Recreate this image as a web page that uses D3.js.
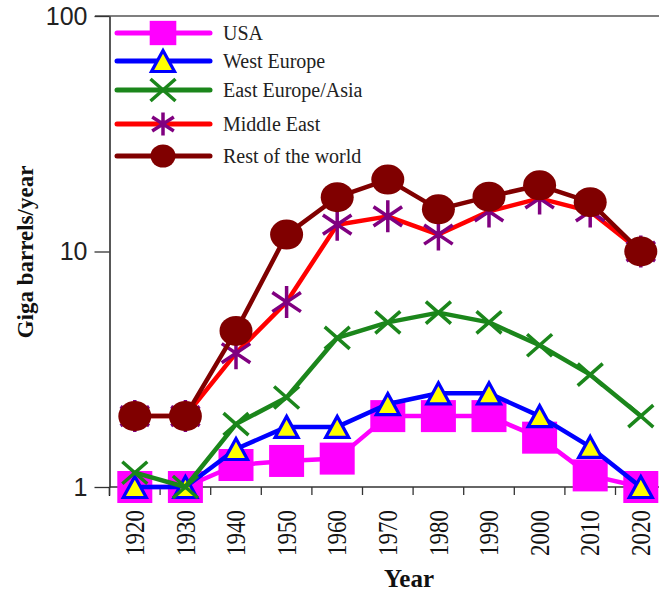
<!DOCTYPE html>
<html>
<head>
<meta charset="utf-8">
<script src="https://cdn.jsdelivr.net/npm/d3@7/dist/d3.min.js"></script>
<style>
  html, body { margin: 0; padding: 0; background: #fff; }
  svg { display: block; }
</style>
</head>
<body>
<svg id="chart" width="659" height="591"></svg>
<script>
// ---- data ----
const years = ["1920","1930","1940","1950","1960","1970","1980","1990","2000","2010","2020"];
const yTicks = [1, 10, 100];
const seriesNames = ["USA", "West Europe", "East Europe/Asia", "Middle East", "Rest of the world"];
const usa        = [1.0, 1.0, 1.24, 1.29, 1.32, 2.0, 2.0, 2.0, 1.62, 1.12, 1.0];
const westEurope = [1.0, 1.0, 1.45, 1.8, 1.8, 2.25, 2.5, 2.5, 2.0, 1.48, 1.0];
const eastEurope = [1.15, 1.0, 1.85, 2.4, 4.3, 5.0, 5.5, 5.0, 4.0, 3.0, 2.0];
const middleEast = [2.0, 2.0, 3.7, 6.1, 13.0, 14.1, 11.8, 14.8, 16.8, 14.8, 10.0];
const restWorld  = [2.0, 2.0, 4.6, 11.8, 17.0, 20.2, 15.1, 17.1, 19.1, 16.2, 10.0];
const xTitle = "Year";
const yTitle = "Giga barrels/year";

// ---- styles ----
const styles = [
  { line: "#ff00ff", marker: "square" },
  { line: "#0000ff", marker: "triangle" },
  { line: "#1b861b", marker: "x" },
  { line: "#ff0000", marker: "asterisk" },
  { line: "#800000", marker: "circle" }
];
const values = [usa, westEurope, eastEurope, middleEast, restWorld];

const svg = d3.select("#chart");
const x0 = 109.5, step = 50.6;
const x = d3.scaleBand().domain(years).range([x0, x0 + step * years.length]).padding(0);
const y = d3.scaleLog().domain([1, 100]).range([487, 16]);
const bw = x.bandwidth();
const cx = d => x(d) + bw / 2;

// marker drawing
function drawMarker(g, type, px, py, big) {
  const s = big ? 1 : 0.76;
  if (type === "square") {
    const w = 35 * s, h = 32 * s;
    g.append("rect").attr("x", px - w / 2).attr("y", py - h / 2).attr("width", w).attr("height", h)
      .attr("fill", "#ff00ff");
  } else if (type === "triangle") {
    const w = 23, h = 21;
    const p = [[px, py - h / 2], [px + w / 2, py + h / 2], [px - w / 2, py + h / 2]];
    g.append("path").attr("d", d3.line()(p) + "Z")
      .attr("fill", "#ffff00").attr("stroke", "#0000ff").attr("stroke-width", 3.2)
      .attr("stroke-linejoin", "miter");
  } else if (type === "x") {
    const hw = 12.5, hh = 11;
    g.append("path").attr("d", `M${px-hw},${py-hh}L${px+hw},${py+hh}M${px-hw},${py+hh}L${px+hw},${py-hh}`)
      .attr("stroke", "#1b861b").attr("stroke-width", 3.5).attr("fill", "none");
  } else if (type === "asterisk") {
    const r = big ? 16.5 : 12.5, rv = big ? 16 : 11.5;
    const a = Math.PI / 6;
    const dx = r * Math.cos(a), dy = rv * Math.sin(a) * 1.2;
    g.append("path").attr("d",
      `M${px},${py-rv}L${px},${py+rv}M${px-dx},${py-dy}L${px+dx},${py+dy}M${px-dx},${py+dy}L${px+dx},${py-dy}`)
      .attr("stroke", "#800080").attr("stroke-width", 3.5).attr("fill", "none");
  } else if (type === "circle") {
    g.append("ellipse").attr("cx", px).attr("cy", py)
      .attr("rx", big ? 16.5 : 12.5).attr("ry", big ? 15 : 11.5)
      .attr("fill", "#800000");
  }
}

// ---- axes ----
svg.append("line").attr("x1", 95).attr("x2", 659).attr("y1", y(100)).attr("y2", y(100))
  .attr("stroke", "#555").attr("stroke-width", 1.6);

const yAxis = d3.axisLeft(y).tickValues(yTicks).tickFormat(d3.format("d")).tickSize(15).tickSizeOuter(0).tickPadding(7);
const gy = svg.append("g").attr("transform", `translate(${x0},0)`).call(yAxis);
gy.select(".domain").attr("stroke", "#111").attr("stroke-width", 1.4);
gy.selectAll(".tick line").attr("stroke", "#333").attr("stroke-width", 1.3);
gy.selectAll(".tick text").attr("font-family", "Liberation Sans, Arial, sans-serif")
  .attr("font-size", 25).attr("fill", "#222");
svg.append("line").attr("x1", x0).attr("x2", x0).attr("y1", y(1)).attr("y2", y(1) + 9)
  .attr("stroke", "#111").attr("stroke-width", 1.4);

const xAxis = d3.axisBottom(x).tickFormat("").tickSize(8).tickSizeOuter(0);
const gx = svg.append("g").attr("transform", `translate(${-bw / 2},${y(1)})`).call(xAxis);
gx.select(".domain").remove();
gx.selectAll(".tick line").attr("stroke", "#333").attr("stroke-width", 1.3);
svg.append("line").attr("x1", x0).attr("x2", 659).attr("y1", y(1)).attr("y2", y(1))
  .attr("stroke", "#333").attr("stroke-width", 1.3);

// x tick labels (rotated, slightly taller glyphs like the reference)
svg.append("g").selectAll("text").data(years).join("text")
  .attr("transform", d => `translate(${cx(d)},510) rotate(-90) scale(1,1.22)`)
  .attr("text-anchor", "end").attr("dominant-baseline", "central")
  .attr("font-family", "Liberation Serif, Times New Roman, serif").attr("font-size", 23)
  .attr("fill", "#111").text(d => d);

svg.append("text").attr("x", 409).attr("y", 587).attr("text-anchor", "middle")
  .attr("font-family", "Liberation Serif, Times New Roman, serif").attr("font-weight", "bold")
  .attr("font-size", 25).attr("fill", "#111").text(xTitle);
svg.append("text").attr("transform", "translate(33,252) rotate(-90)").attr("text-anchor", "middle")
  .attr("font-family", "Liberation Serif, Times New Roman, serif").attr("font-weight", "bold")
  .attr("font-size", 23).attr("fill", "#111").text(yTitle);

// ---- series ----
const plot = svg.append("g");
values.forEach((vals, i) => {
  const g = plot.append("g");
  const pts = years.map((yr, j) => [cx(yr), y(vals[j])]);
  g.append("path").attr("d", d3.line()(pts)).attr("fill", "none")
    .attr("stroke", styles[i].line).attr("stroke-width", 4.5)
    .attr("stroke-linejoin", "round").attr("stroke-linecap", "round");
  pts.forEach(p => drawMarker(g, styles[i].marker, p[0], p[1], true));
});

// ---- legend ----
const legendRows = [33, 61, 90, 124, 156];
const leg = svg.append("g");
seriesNames.forEach((name, i) => {
  const ly = legendRows[i];
  const g = leg.append("g");
  g.append("line").attr("x1", 117).attr("x2", 210).attr("y1", ly).attr("y2", ly)
    .attr("stroke", styles[i].line).attr("stroke-width", 5).attr("stroke-linecap", "round");
  drawMarker(g, styles[i].marker, 163, ly, false);
  g.append("text").attr("x", 223).attr("y", ly + 7)
    .attr("font-family", "Liberation Serif, Times New Roman, serif").attr("font-size", 20)
    .attr("fill", "#222").text(name);
});
</script>
</body>
</html>
